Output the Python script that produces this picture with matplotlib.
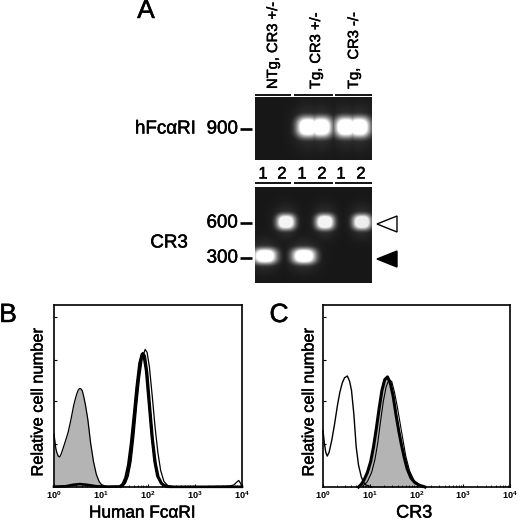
"""Genotyping gels and flow cytometry histograms (panels A, B, C)."""
import numpy as np
import matplotlib
matplotlib.use('Agg')
import matplotlib.pyplot as plt
import matplotlib.patheffects as pe
from matplotlib.patches import Polygon

plt.rcParams['font.family'] = ['Liberation Sans', 'DejaVu Sans']
plt.rcParams['mathtext.fontset'] = 'custom'
plt.rcParams['mathtext.rm'] = 'Liberation Sans'
plt.rcParams['mathtext.bf'] = 'Liberation Sans:bold'

# gel A, bands as x position along the gel and base pair label
genotypes = ['NTg, CR3 +/-', 'Tg, CR3 +/-', 'Tg,  CR3 -/-']
lane_labels = ['1', '2', '1', '2', '1', '2']
top_band_x = [53, 66, 91, 104]
top_band_size = [900, 900, 900, 900]
bottom_band_x = [10, 31, 49, 70, 107]
bottom_band_size = [300, 600, 300, 600, 600]
bottom_band_level = [1.0, 0.95, 1.0, 0.95, 0.92]

# panel B, x as log10 of intensity, y as percent of axis height
b_fill_x = [0.0, 0.02, 0.04, 0.06, 0.09, 0.12, 0.15, 0.19, 0.24, 0.3, 0.36, 0.42, 0.47, 0.51, 0.54, 0.57, 0.6, 0.63,
            0.67, 0.72, 0.78, 0.84, 0.9, 0.96, 1.01, 1.1, 1.2]
b_fill_y = [29, 25, 21, 19, 17, 16.5, 18, 21, 25, 30, 37, 45, 50, 53, 54, 54, 53, 50,
            45, 37, 24, 14, 7, 3, 1.3, 0.4, 0]
b_thick_x = [0.0, 0.25, 0.4, 0.55, 0.7, 0.9, 1.1, 1.40, 1.46, 1.52, 1.58, 1.64, 1.70, 1.76, 1.82,
             1.87, 1.91, 1.96, 2.02, 2.08, 2.14, 2.2, 2.28, 2.36, 2.45, 4.0]
b_thick_y = [0.2, 0.4, 1.2, 1.6, 1.2, 0.4, 0.2, 0.3, 1.5, 5, 12, 24, 39, 55, 68,
             73, 72, 64, 46, 28, 14, 6, 2, 0.5, 0.1, 0.1]
b_thick2_x = [1.42, 1.48, 1.54, 1.60, 1.66, 1.72, 1.78, 1.84, 1.89, 1.93, 1.98, 2.04, 2.10, 2.16, 2.22,
              2.3, 2.4]
b_thick2_y = [0.3, 1.5, 5, 12, 25, 41, 57, 69, 73.5, 72, 63, 44, 26, 13, 5.5, 1.6, 0.3]
b_thin_x = [1.45, 1.52, 1.58, 1.64, 1.70, 1.76, 1.82, 1.88, 1.94, 1.98, 2.03, 2.09, 2.15, 2.21, 2.27,
            2.34, 2.42, 2.55, 3.2, 3.6, 3.75, 3.83, 3.88, 3.93, 3.97, 4.0]
b_thin_y = [0.4, 2, 6, 14, 28, 45, 60, 71, 75.6, 74, 66, 50, 33, 19, 9,
            3, 0.8, 0.2, 0.2, 0.4, 0.6, 1.2, 2.5, 3.6, 2, 0.3]

# panel C
c_thin_x = [0.0, 0.03, 0.06, 0.09, 0.13, 0.19, 0.25, 0.31, 0.36, 0.41, 0.46, 0.52, 0.57, 0.61,
            0.66, 0.71, 0.76, 0.82, 0.88, 0.93, 1.04]
c_thin_y = [31, 24, 19, 17, 19, 26, 35, 45, 52, 57, 60, 61, 58, 53,
            40, 22, 12, 5.5, 2, 1, 0]
c_fill_x = [0.76, 0.82, 0.88, 0.95, 1.02, 1.08, 1.14, 1.2, 1.26, 1.32, 1.38, 1.44, 1.5, 1.56,
            1.62, 1.68, 1.74, 1.8, 1.88, 1.96, 2.06, 2.18]
c_fill_y = [0, 1.5, 4, 8, 14, 22, 32, 43, 53, 59, 60.5, 57, 50, 40,
            31, 23, 16, 10, 5, 2.5, 1, 0]
c_thin2_x = [0.85, 0.95, 1.04, 1.11, 1.17, 1.23, 1.29, 1.35, 1.41, 1.47, 1.53, 1.59, 1.65, 1.71, 1.77,
             1.85, 1.95, 2.1]
c_thin2_y = [0.5, 3, 8, 15, 24, 36, 47, 55, 59, 58, 52, 44, 35, 26, 17, 9, 3.5, 0.5]

x_tick_values = [1, 10, 100, 1000, 10000]
x_tick_labels = [r'$\mathbf{10^{0}}$', r'$\mathbf{10^{1}}$', r'$\mathbf{10^{2}}$',
                 r'$\mathbf{10^{3}}$', r'$\mathbf{10^{4}}$']
y_tick_values = [23.5, 47, 70, 93.5]

W = 520
HEAVY = [pe.withStroke(linewidth=0.35, foreground='black')]


def px_axes(fig, left, top, right, bottom):
    return fig.add_axes([left / W, 1 - bottom / W, (right - left) / W, (bottom - top) / W])


def gel(fig, box, band_x, band_y, level, half_w, half_h):
    left, top, right, bottom = box
    ax = px_axes(fig, left, top, right, bottom)
    xx, yy = np.meshgrid(np.arange(right - left) + 0.5, np.arange(bottom - top) + 0.5)
    img = np.zeros_like(xx)
    for x0, y0, lev, hw in zip(band_x, band_y, level, half_w):
        core = np.exp(-(np.abs((xx - x0) / hw) ** 2.6 + np.abs((yy - y0) / half_h) ** 2.6))
        halo = np.exp(-(((xx - x0) / (hw * 1.3)) ** 2 + ((yy - y0) / (half_h * 2)) ** 2))
        img = np.maximum(img, lev * np.minimum(1, 1.5 * core))
        img = np.maximum(img, 0.16 * halo)
    ax.imshow(0.09 + 0.91 * img, cmap='gray', vmin=0, vmax=1, aspect='auto', interpolation='bilinear')
    ax.axis('off')


def histogram(fig, box, xlabel, xlabel_size, xlabel_pos, ylabel_x):
    ax = px_axes(fig, *box)
    ax.set_xscale('log')
    ax.set_xlim(1, 10000)
    ax.set_ylim(0, 100)
    ax.set_xticks(x_tick_values)
    ax.set_xticklabels(x_tick_labels, fontsize=6.6)
    ax.set_yticks(y_tick_values)
    ax.set_yticklabels([])
    ax.tick_params(axis='both', which='major', direction='in', length=2.5, width=0.8, pad=2)
    ax.tick_params(axis='x', which='minor', direction='in', length=1.5, width=0.6)
    ax.xaxis.set_minor_locator(matplotlib.ticker.LogLocator(base=10, subs=range(2, 10), numticks=10))
    ax.xaxis.set_minor_formatter(matplotlib.ticker.NullFormatter())
    for s in ax.spines.values():
        s.set_linewidth(1.2)
    ax.set_xlabel(xlabel, fontsize=xlabel_size, path_effects=HEAVY)
    ax.xaxis.set_label_coords(xlabel_pos, -0.126, transform=ax.transAxes)
    ax.xaxis.label.set_va('center')
    ax.set_ylabel('Relative cell number', fontsize=11.8, path_effects=HEAVY)
    ax.yaxis.set_label_coords(ylabel_x, 0.467, transform=ax.transAxes)
    ax.yaxis.label.set_va('center')
    return ax


def line(ax, xs, ys, lw):
    ax.plot(10 ** np.array(xs), ys, color='black', lw=lw, clip_on=False, solid_joinstyle='round')


def main():
    fig = plt.figure(figsize=(5.2, 5.2), dpi=100)

    gel(fig, (255, 97, 372, 160), top_band_x, [30] * len(top_band_x), [1.0] * len(top_band_x),
        [11] * len(top_band_x), 10)
    rows = {300: 69, 600: 35}
    widths = {300: 11.5, 600: 9}
    gel(fig, (255, 187, 372, 283), bottom_band_x, [rows[s] for s in bottom_band_size], bottom_band_level,
        [widths[s] for s in bottom_band_size], 7.5)

    # labels, dashes, arrows on a pixel overlay
    over = fig.add_axes([0, 0, 1, 1])
    over.set_xlim(0, W)
    over.set_ylim(W, 0)
    over.axis('off')
    over.patch.set_alpha(0)

    for cx, name in zip([273, 316, 354], genotypes):
        over.text(cx, 89, name, rotation=90, ha='center', va='bottom', fontsize=10.6, path_effects=HEAVY)
    # brackets above each gel group
    for y in (95, 183):
        for x0, x1 in [(255, 291), (294, 333), (335, 372)]:
            over.plot([x0, x1], [y, y], color='black', lw=1.3, solid_capstyle='butt')
    for cx, lab in zip([263, 282, 302, 322, 341, 361], lane_labels):
        over.text(cx, 174, lab, ha='center', va='center', fontsize=12, path_effects=HEAVY)

    for y, lab in [(129, '900'), (223, '600'), (258, '300')]:
        over.text(238, y, lab, ha='right', va='center', fontsize=13.5, path_effects=HEAVY)
        over.plot([240, 252], [y, y], color='black', lw=1.9, solid_capstyle='butt')
    over.text(135, 129, 'hFc\u03b1RI', ha='left', va='center', fontsize=13.5, path_effects=HEAVY)
    over.text(169, 243, 'CR3', ha='center', va='center', fontsize=13.5, path_effects=HEAVY)

    over.add_patch(Polygon([[377, 224], [397, 216], [397, 232]], closed=True, fc='white', ec='black', lw=1))
    over.add_patch(Polygon([[377, 259], [397, 251], [397, 267]], closed=True, fc='black', ec='black', lw=1))

    over.text(146, 11, 'A', ha='center', va='center', fontsize=19, path_effects=HEAVY)
    over.text(8, 315, 'B', ha='center', va='center', fontsize=19, path_effects=HEAVY)
    over.text(279, 315, 'C', ha='center', va='center', fontsize=19, path_effects=HEAVY)

    # panel B
    ax = histogram(fig, (54, 305, 242, 487), 'Human Fc\u03b1RI', 12.4, 0.47, -0.085)
    ax.fill_between(10 ** np.array(b_fill_x), b_fill_y, color='#b4b4b4', lw=0)
    line(ax, b_fill_x, b_fill_y, 0.9)
    line(ax, b_thick_x, b_thick_y, 1.9)
    line(ax, b_thick2_x, b_thick2_y, 1.9)
    line(ax, b_thin_x, b_thin_y, 0.9)
    ax.xaxis.set_label_coords(0.47, -0.143, transform=ax.transAxes)

    # panel C
    ax = histogram(fig, (323, 305, 510, 487), 'CR3', 13, 0.487, -0.075)
    ax.fill_between(10 ** np.array(c_fill_x), c_fill_y, color='#b4b4b4', lw=0)
    line(ax, c_thin_x, c_thin_y, 1.0)
    line(ax, c_fill_x, c_fill_y, 2.2)
    line(ax, c_thin2_x, c_thin2_y, 0.8)
    ax.xaxis.set_label_coords(0.487, -0.143, transform=ax.transAxes)

    fig.savefig('out.png', dpi=100)


if __name__ == '__main__':
    main()
